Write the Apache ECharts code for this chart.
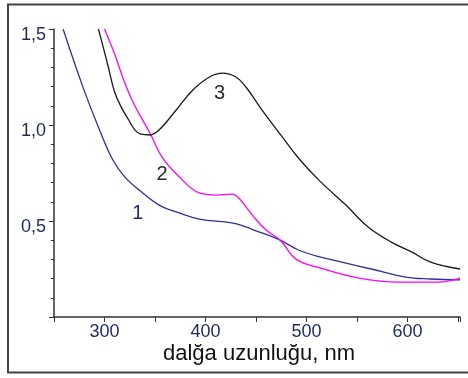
<!DOCTYPE html>
<html><head><meta charset="utf-8">
<script src="https://cdn.jsdelivr.net/npm/echarts@6/dist/echarts.min.js"></script>
<style>html,body{margin:0;padding:0;background:#fff}#c{width:468px;height:378px}</style>
</head><body><div id="c"></div>
<script>
const xTickLabels = [300, 400, 500, 600];
const yTickLabels = [0.5, 1.0, 1.5];
const curveNames = ['1', '2', '3'];
const x1 = [259, 278.5, 295, 308, 320, 337, 354, 374, 394, 426, 440, 448, 473, 492, 514, 539, 564, 598, 623, 652];
const y1 = [1.5, 1.2, 0.975, 0.82, 0.73, 0.65, 0.583, 0.542, 0.51, 0.49, 0.469, 0.453, 0.403, 0.349, 0.312, 0.281, 0.25, 0.208, 0.198, 0.193];
const x2 = [300, 310, 320, 330, 345, 357, 374, 394, 411, 426, 433, 448, 460, 474, 490, 514, 552, 591, 630, 652];
const y2 = [1.5, 1.37, 1.22, 1.1, 0.958, 0.833, 0.73, 0.646, 0.635, 0.64, 0.62, 0.52, 0.453, 0.4, 0.3, 0.255, 0.203, 0.182, 0.182, 0.203];
const x3 = [294, 300, 304, 310, 317, 324, 330, 336, 345, 354, 371, 387, 404, 417, 430, 440, 456, 476, 492, 512, 539, 561, 584, 604, 623, 652];
const y3 = [1.5, 1.38, 1.297, 1.172, 1.089, 1.026, 0.975, 0.952, 0.948, 0.974, 1.078, 1.18, 1.25, 1.27, 1.25, 1.198, 1.078, 0.938, 0.828, 0.714, 0.583, 0.469, 0.39, 0.339, 0.286, 0.25];
const labelPos = [[333, 0.54], [357, 0.74], [414, 1.165]];

const pair = (xs, ys) => xs.map((x, i) => [x, ys[i]]);
const colors = ['#2e309c', '#ff00ff', '#1a1a1a'];
const labelColors = ['#1f2a78', '#2a2a2a', '#2a2a2a'];
const fmt = v => v.toFixed(1).replace('.', ',');
const chart = echarts.init(document.getElementById('c'));
const datas = [pair(x1, y1), pair(x2, y2), pair(x3, y3)];
chart.setOption({
  animation: false,
  graphic: [
    {type: 'rect', shape: {x: 8, y: 4.5, width: 470, height: 368}, style: {fill: 'none', stroke: '#444', lineWidth: 2}, z: 0},
    {type: 'text', left: 163, top: 343, style: {text: 'dalğa uzunluğu, nm', font: '22px "Liberation Sans"', fill: '#111'}}
  ],
  grid: {left: 54, right: 8, top: 29, bottom: 61},
  xAxis: {
    type: 'value', min: 250, max: 652, interval: 50,
    axisLine: {lineStyle: {color: '#333', width: 1.5}},
    axisTick: {inside: false, length: 5, lineStyle: {color: '#333'}},
    axisLabel: {fontFamily: 'Liberation Sans', fontSize: 18, color: '#1f2a5a', margin: 6,
      formatter: v => xTickLabels.includes(v) ? String(v) : ''},
    splitLine: {show: false}
  },
  yAxis: {
    type: 'value', min: 0, max: 1.5, interval: 0.5,
    axisLine: {show: true, lineStyle: {color: '#333', width: 1.5}},
    axisTick: {show: true, length: 5, lineStyle: {color: '#333'}},
    minorTick: {show: true, splitNumber: 5, length: 3, lineStyle: {color: '#333'}},
    axisLabel: {fontFamily: 'Liberation Sans', fontSize: 18, color: '#1f2a5a', margin: 8, verticalAlign: 'top', padding: [-3, 0, 0, 0],
      formatter: v => yTickLabels.some(t => Math.abs(t - v) < 1e-9) ? fmt(v) : ''},
    splitLine: {show: false}
  },
  series: datas.map((d, i) => ({
    type: 'line', name: curveNames[i], data: d, smooth: 0.4, showSymbol: false,
    lineStyle: {color: colors[i], width: 1.3}, clip: true,
    markPoint: {symbol: 'circle', symbolSize: 0, data: [{coord: labelPos[i], value: curveNames[i]}],
      label: {show: true, position: 'inside', formatter: curveNames[i], fontFamily: 'Liberation Sans', fontSize: 20, color: labelColors[i]}}
  }))
});
</script></body></html>
